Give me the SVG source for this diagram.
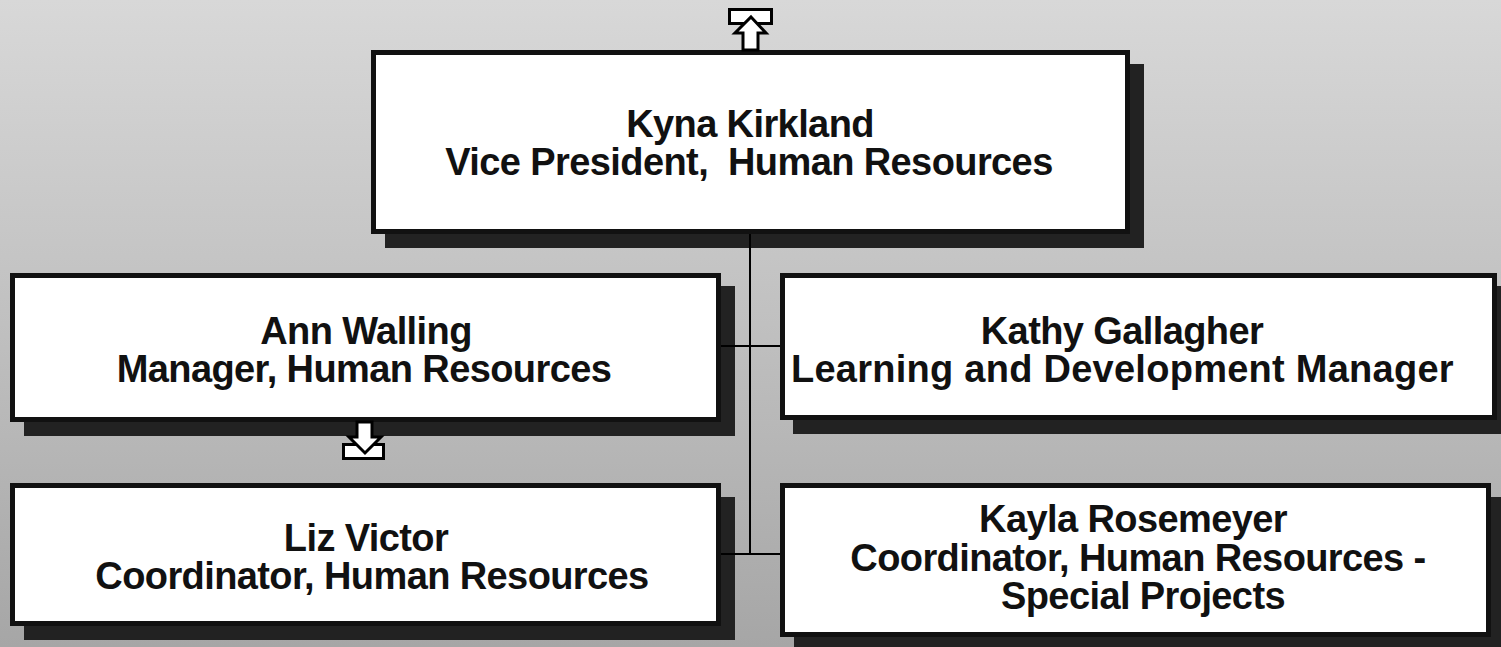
<svg xmlns="http://www.w3.org/2000/svg" width="1501" height="647" viewBox="0 0 1501 647">
  <defs>
    <linearGradient id="bg" x1="0" y1="0" x2="0" y2="1">
      <stop offset="0" stop-color="#d8d8d8"/>
      <stop offset="0.5" stop-color="#c0c0c0"/>
      <stop offset="1" stop-color="#a6a6a6"/>
    </linearGradient>
  </defs>
  <style>
    .shadow { fill: #222222; }
    .box { fill: #ffffff; stroke: #111111; stroke-width: 5; }
    .conn { stroke: #000000; stroke-width: 2; fill: none; }
    .icon { fill: #ffffff; stroke: #000000; stroke-width: 3; stroke-linejoin: miter; }
    text { font-family: "Liberation Sans", Arial, sans-serif; font-weight: bold; font-size: 38px; fill: #111111; text-anchor: middle; letter-spacing: -0.6px; white-space: pre; }
  </style>
  <rect x="0" y="0" width="1501" height="647" fill="url(#bg)"/>

  <g id="shadows">
    <rect class="shadow" x="385" y="64" width="759" height="184"/>
    <rect class="shadow" x="24" y="286" width="711" height="150"/>
    <rect class="shadow" x="793" y="286" width="717" height="148"/>
    <rect class="shadow" x="24" y="497" width="711" height="143"/>
    <rect class="shadow" x="794" y="497" width="711" height="160"/>
  </g>

  <g id="connectors">
    <line class="conn" x1="750" y1="234" x2="750" y2="555"/>
    <line class="conn" x1="721" y1="346" x2="780" y2="346"/>
    <line class="conn" x1="721" y1="554" x2="780" y2="554"/>
  </g>

  <g id="node-kyna">
    <rect class="box" x="373.5" y="52.5" width="754" height="179"/>
    <text x="750" y="137">Kyna Kirkland</text>
    <text x="749" y="175" xml:space="preserve">Vice President,  Human Resources</text>
  </g>

  <g id="node-ann">
    <rect class="box" x="12.5" y="275.5" width="706" height="144"/>
    <text x="366" y="344">Ann Walling</text>
    <text x="364" y="382">Manager, Human Resources</text>
  </g>

  <g id="node-kathy">
    <rect class="box" x="782.5" y="275.5" width="712" height="142"/>
    <text x="1122" y="344">Kathy Gallagher</text>
    <text x="1122" y="382" textLength="662" lengthAdjust="spacing">Learning and Development Manager</text>
  </g>

  <g id="node-liz">
    <rect class="box" x="12.5" y="485.5" width="706" height="138"/>
    <text x="366" y="551">Liz Victor</text>
    <text x="372" y="589">Coordinator, Human Resources</text>
  </g>

  <g id="node-kayla">
    <rect class="box" x="782.5" y="485.5" width="706" height="149"/>
    <text x="1133" y="532">Kayla Rosemeyer</text>
    <text x="1138" y="571">Coordinator, Human Resources -</text>
    <text x="1143" y="609">Special Projects</text>
  </g>

  <g id="icon-up">
    <rect class="icon" x="729.5" y="9.5" width="42" height="14"/>
    <polygon class="icon" points="751,17 766,33 758,33 758,50 743,50 743,33 735,33"/>
  </g>

  <g id="icon-down">
    <rect class="icon" x="343.5" y="444.5" width="40" height="14"/>
    <polygon class="icon" points="357,422 372,422 372,437 381,437 365,453 349,437 357,437"/>
  </g>
</svg>
